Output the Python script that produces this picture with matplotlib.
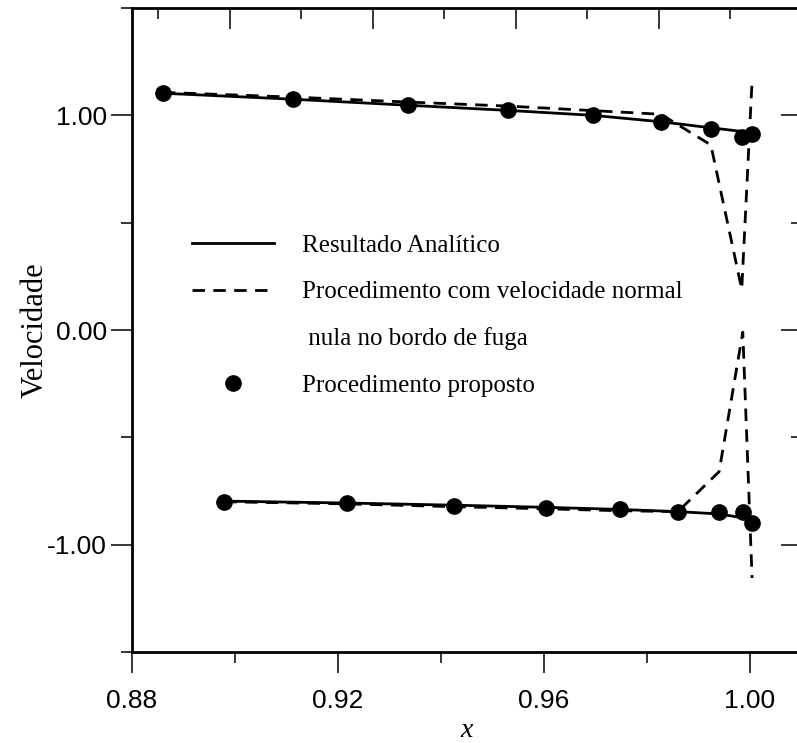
import matplotlib
matplotlib.use("Agg")
import matplotlib.pyplot as plt
from matplotlib.lines import Line2D
from matplotlib.ticker import FixedLocator, FixedFormatter, NullFormatter

plt.rcParams['axes.unicode_minus'] = False

# Upper surface (extradorso)
x_up = [0.8860, 0.9113, 0.9336, 0.9530, 0.9695, 0.9827, 0.9924, 0.9984, 1.0004]
v_up_analitico = [1.103, 1.075, 1.047, 1.023, 1.000, 0.970, 0.942, 0.925, 0.915]
v_up_normal_nula = [1.107, 1.085, 1.062, 1.043, 1.022, 1.005, 0.862, 0.190, 1.160]
v_up_proposto = [1.103, 1.075, 1.047, 1.023, 1.000, 0.967, 0.935, 0.897, 0.911]

# Lower surface (intradorso)
x_lo = [0.8979, 0.9217, 0.9425, 0.9604, 0.9748, 0.9860, 0.9940, 0.9986, 1.0004]
v_lo_analitico = [-0.797, -0.806, -0.816, -0.826, -0.836, -0.846, -0.857, -0.875, -0.897]
v_lo_normal_nula = [-0.800, -0.810, -0.823, -0.833, -0.842, -0.846, -0.660, -0.010, -1.155]
v_lo_proposto = [-0.799, -0.806, -0.818, -0.827, -0.836, -0.846, -0.846, -0.850, -0.897]

x_major = [0.88, 0.92, 0.96, 1.00]
x_minor = [0.90, 0.94, 0.98]
x_labels = ["0.88", "0.92", "0.96", "1.00"]
y_major = [-1.0, 0.0, 1.0]
y_minor = [-1.5, -0.5, 0.5, 1.5]
y_labels = ["-1.00", "0.00", "1.00"]
top_major = [0, 1, 2, 3, 4]
top_minor = [-0.5, 0.5, 1.5, 2.5, 3.5]

labels = ["Resultado Analítico",
          "Procedimento com velocidade normal",
          " nula no bordo de fuga",
          "Procedimento proposto"]

W, H = 797, 743
fig = plt.figure(figsize=(W / 100, H / 100), dpi=100)
ax = fig.add_axes([132 / W, 91 / H, 669.5 / W, 644 / H])
ax_top = ax.twiny()
ax_r = ax.twinx()

dash = (0, (4.5, 3.0))
l_an, = ax.plot(x_up, v_up_analitico, color='black', lw=2.0, zorder=2)
ax.plot(x_lo, v_lo_analitico, color='black', lw=2.0, zorder=2)
l_nn, = ax.plot(x_up, v_up_normal_nula, color='black', lw=2.0, ls=dash, zorder=2)
ax.plot(x_lo, v_lo_normal_nula, color='black', lw=2.0, ls=dash, zorder=2)
l_pp, = ax.plot(x_up, v_up_proposto, 'o', color='black', ms=11, ls='none', zorder=3)
ax.plot(x_lo, v_lo_proposto, 'o', color='black', ms=11, ls='none', zorder=3)

ax.set_xlim(0.88, 1.01)
ax.set_ylim(-1.5, 1.5)
ax_r.set_ylim(-1.5, 1.5)
ax_top.set_xlim(-0.685, 4.0)

tick_font = dict(family='Liberation Sans', size=19)

ax.xaxis.set_major_locator(FixedLocator(x_major))
ax.xaxis.set_minor_locator(FixedLocator(x_minor))
ax.xaxis.set_major_formatter(FixedFormatter(x_labels))
ax.yaxis.set_major_locator(FixedLocator(y_major))
ax.yaxis.set_minor_locator(FixedLocator(y_minor))
ax.yaxis.set_major_formatter(FixedFormatter(y_labels))
ax.tick_params(which='major', direction='out', length=15, width=1.1)
ax.tick_params(which='minor', direction='out', length=8, width=1.1)
ax.tick_params(axis='x', which='major', pad=12)
ax.tick_params(axis='y', which='major', pad=3)
ax.tick_params(top=False, right=False)
for lab in ax.get_xticklabels() + ax.get_yticklabels():
    lab.set_fontfamily(tick_font['family'])
    lab.set_fontsize(tick_font['size'])

ax_top.xaxis.set_major_locator(FixedLocator(top_major))
ax_top.xaxis.set_minor_locator(FixedLocator(top_minor))
ax_top.xaxis.set_major_formatter(NullFormatter())
ax_top.tick_params(which='major', direction='in', length=15, width=1.1,
                   top=True, bottom=False, labeltop=False)
ax_top.tick_params(which='minor', direction='in', length=8, width=1.1,
                   top=True, bottom=False)

ax_r.yaxis.set_major_locator(FixedLocator(y_major))
ax_r.yaxis.set_minor_locator(FixedLocator([-0.5, 0.5]))
ax_r.yaxis.set_major_formatter(NullFormatter())
ax_r.tick_params(which='major', direction='in', length=15, width=1.1,
                 right=True, left=False, labelright=False)
ax_r.tick_params(which='minor', direction='in', length=8, width=1.1,
                 right=True, left=False)

for a in (ax_top, ax_r):
    for s in a.spines.values():
        s.set_visible(False)
for s in ax.spines.values():
    s.set_linewidth(2.0)

ax.set_xlabel("x", fontfamily='Liberation Serif', fontstyle='italic', fontsize=20)
ax.xaxis.label.set_va('baseline')
ax.xaxis.set_label_coords(0.5, -0.132)
ax.set_ylabel("Velocidade", fontfamily='Liberation Serif', fontsize=22)
ax.yaxis.label.set_va('center')
ax.yaxis.set_label_coords(-0.145, 0.5)

blank = Line2D([], [], ls='none', marker='')
ax.legend([l_an, l_nn, blank, l_pp], labels,
          loc='upper left', bbox_to_anchor=(0.0896, 0.6483),
          frameon=False, borderpad=0, borderaxespad=0,
          handlelength=3.3, handletextpad=1.1, labelspacing=0.96,
          numpoints=1, prop=dict(family='Liberation Serif', size=18))

fig.savefig("out.png", dpi=100)
